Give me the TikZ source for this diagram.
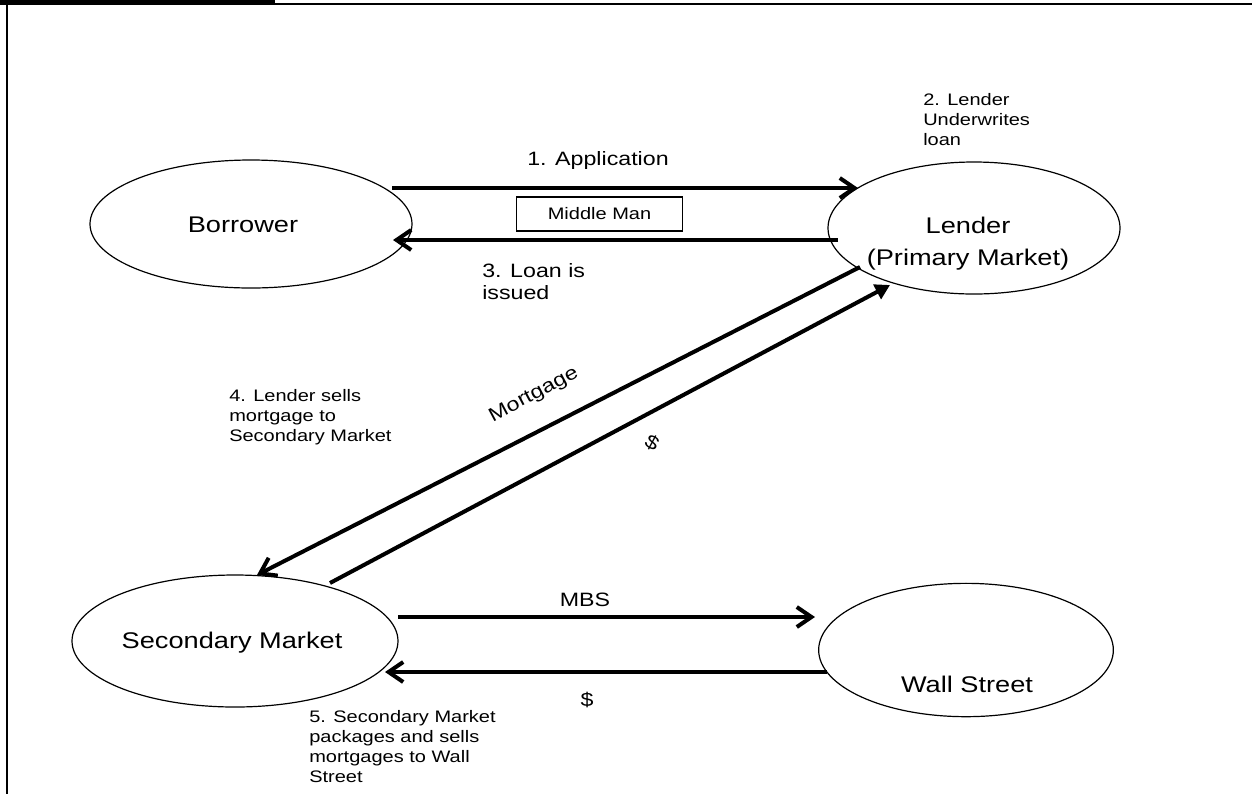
\documentclass[tikz,border=0pt]{standalone}
\usepackage{fontspec}
\setmainfont{Liberation Sans}[FakeStretch=1.2]
\usetikzlibrary{arrows.meta,shapes.geometric}
\begin{document}
\begin{tikzpicture}[x=0.75pt,y=-0.75pt,
  oval/.style={draw, line width=0.9pt, ellipse, inner sep=0pt},
  big/.style={font=\fontsize{17pt}{24pt}\selectfont, inner sep=0pt},
  mid/.style={font=\fontsize{14.5pt}{17pt}\selectfont, inner sep=0pt},
  small/.style={font=\fontsize{12.5pt}{15pt}\selectfont, inner sep=0pt, align=left},
  conn/.style={line width=3pt},
  barb/.style={conn, -{Straight Barb[length=11pt,width=15pt]}},
  tri/.style={conn, -{Triangle[length=11pt,width=12pt]}}
]
\useasboundingbox (0,0) rectangle (1252,794);
% frame
\fill (0,0) rectangle (275,4.5);
\draw[line width=1.6pt] (275,4) -- (1252,4);
\draw[line width=1.6pt] (7,0) -- (7,794);

% ellipses (sizes in pt = px * 0.75)
\node[oval, minimum width=241.5pt, minimum height=96pt] (borrower) at (251,224) {};
\node[oval, minimum width=219pt, minimum height=99pt] (lender) at (974,228) {};
\node[oval, minimum width=244.5pt, minimum height=99pt] (secondary) at (235,641) {};
\node[oval, minimum width=221pt, minimum height=100pt] (wall) at (966,650) {};

\node[big] (tb) at (243,225) {Borrower};
\node[big, align=center] (tl) at (968,244) {Lender\\(Primary Market)};
\node[big] (ts) at (232,643) {Secondary Market};
\node[big] (tw) at (967,684) {Wall Street};

% connector end points
\coordinate (a1) at (392,188); \coordinate (a2) at (858,188);
\coordinate (l1) at (838,240); \coordinate (l2) at (393,240);
\coordinate (m1) at (860,267); \coordinate (m2) at (257,575);
\coordinate (d1) at (330,583); \coordinate (d2) at (890,285);
\coordinate (b1) at (398,617); \coordinate (b2) at (815,617);
\coordinate (w1) at (827,672); \coordinate (w2) at (385,672);

\draw[barb] (a1) -- (a2);
\draw[barb] (l1) -- (l2);
\draw[barb] (m1) -- (m2);
\draw[tri] (d1) -- (d2);
\draw[barb] (b1) -- (b2);
\draw[barb] (w1) -- (w2);

% labels
\node[mid, anchor=west] (lapp) at (527,160) {1. Application};
\node[draw, line width=0.8pt, minimum width=125pt, minimum height=25.5pt, inner sep=0pt,
      font=\fontsize{12.5pt}{15pt}\selectfont] (mm) at (599.5,214) {Middle Man};
\node[mid, align=left, anchor=north west] (lloan) at (482,263) {3. Loan is\\issued};
\node[small, anchor=north west] (lund) at (923,93) {2. Lender\\Underwrites\\loan};
\node[small, anchor=north west] (lsell) at (229,389) {4. Lender sells\\mortgage to\\Secondary Market};
\node[mid, rotate=28] (lmort) at (534,395) {Mortgage};
\node[mid, rotate=-28] (ldol) at (652,443) {\$};
\node[mid] (lmbs) at (585,600) {MBS};
\node[mid] (ldol2) at (587,700) {\$};
\node[small, anchor=north west] (lpack) at (309,710) {5. Secondary Market\\packages and sells\\mortgages to Wall\\Street};
\end{tikzpicture}
\end{document}
